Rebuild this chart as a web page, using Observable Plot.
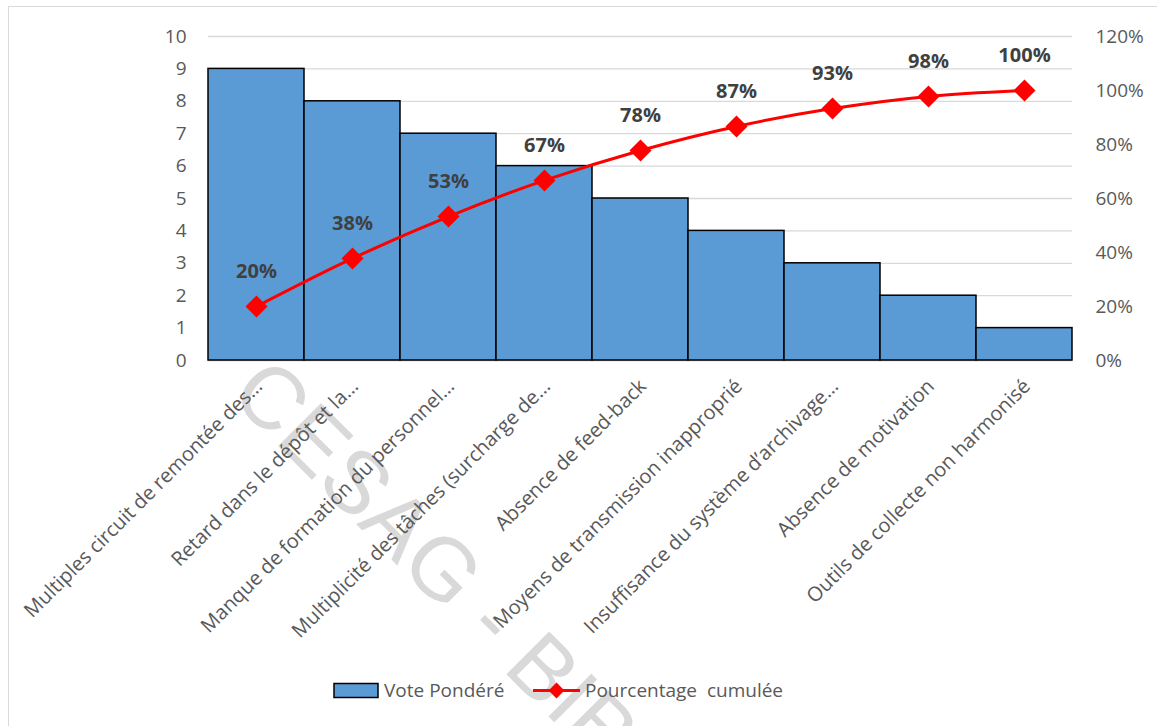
<!DOCTYPE html>
<html>
<head>
<meta charset="utf-8">
<script src="https://cdn.jsdelivr.net/npm/d3@7"></script>
<script src="https://cdn.jsdelivr.net/npm/@observablehq/plot@0.6"></script>
<style>
  html, body { margin: 0; padding: 0; background: #fff; }
  #wrap { position: relative; width: 1157px; height: 726px; overflow: hidden; font-family: "Open Sans", sans-serif; }
  #frame { position: absolute; left: 8px; top: 6px; width: 1170px; height: 740px; border: 1.5px solid #d9d9d9; box-sizing: border-box; }
  #wm { position: absolute; left: 0; top: 0; }
  #chart { position: absolute; left: 0; top: 0; }
  #legend { position: absolute; left: 0; top: 660px; }
</style>
</head>
<body>
<div id="wrap">
  <div id="frame"></div>
  <svg id="wm" width="1157" height="726">
    <text x="228" y="396" transform="rotate(45 228 396)" font-family="Liberation Sans, Arial, sans-serif" font-size="88" fill="#d9d9d9">CESAG - BIBLIOTHEQUE</text>
  </svg>
  <div id="chart"></div>
  <svg id="legend" width="1157" height="66"></svg>
</div>
<script>
const categories = [
  "Multiples circuit de remontée des…",
  "Retard dans le dépôt et la…",
  "Manque de formation du personnel…",
  "Multiplicité des tâches (surcharge de…",
  "Absence de feed-back",
  "Moyens de transmission inapproprié",
  "Insuffisance du système d’archivage…",
  "Absence de motivation",
  "Outils de collecte non harmonisé"
];
const votes = [9, 8, 7, 6, 5, 4, 3, 2, 1];
const cumulPct = [20, 37.8, 53.3, 66.7, 77.8, 86.7, 93.3, 97.8, 100];
const pctLabels = ["20%", "38%", "53%", "67%", "78%", "87%", "93%", "98%", "100%"];
const leftTicks = [0, 1, 2, 3, 4, 5, 6, 7, 8, 9, 10];
const rightTicks = [0, 20, 40, 60, 80, 100, 120];
const seriesNames = ["Vote Pondéré", "Pourcentage  cumulée"];

const rightMax = 120, leftMax = 10;
const toLeft = p => p * leftMax / rightMax;

const rows = categories.map((c, i) => ({cat: c, vote: votes[i], pct: cumulPct[i], label: pctLabels[i]}));

const chart = Plot.plot({
  width: 1157,
  height: 660,
  marginTop: 36,
  marginBottom: 300,
  marginLeft: 208,
  marginRight: 85,
  style: {fontFamily: "'Open Sans', sans-serif", fontSize: "19px", color: "#595959", background: "transparent", overflow: "visible"},
  x: {domain: categories, padding: 0, axis: null},
  y: {domain: [0, leftMax], axis: null},
  marks: [
    Plot.gridY(leftTicks.slice(1), {stroke: "#d9d9d9", strokeOpacity: 1, strokeWidth: 1.3}),
    Plot.ruleY([0], {stroke: "#bfbfbf", strokeWidth: 1.5}),
    Plot.barY(rows, {x: "cat", y: "vote", fill: "#5b9bd5", stroke: "#000", strokeWidth: 1.5}),
    Plot.axisY(leftTicks, {anchor: "left", label: null, tickSize: 0, tickPadding: 22, fill: "#595959", fontSize: 19}),
    Plot.axisY(rightTicks.map(toLeft), {anchor: "right", label: null, tickSize: 0, tickPadding: 23, fill: "#595959", fontSize: 19,
      tickFormat: d => Math.round(d * rightMax / leftMax) + "%"}),
    Plot.text(rows, {x: "cat", frameAnchor: "bottom", text: "cat", rotate: -45, textAnchor: "end", dx: 7, dy: 27, fill: "#595959", fontSize: 20}),
    Plot.line(rows, {x: "cat", y: d => toLeft(d.pct), stroke: "#ff0000", strokeWidth: 3, curve: "catmull-rom"}),
    Plot.dot(rows, {x: "cat", y: d => toLeft(d.pct), symbol: "diamond2", r: 9.9, fill: "#ff0000", stroke: "none"}),
    Plot.text(rows, {x: "cat", y: d => toLeft(d.pct), text: "label", dy: -35, fontWeight: "bold", fill: "#404040", fontSize: 20})
  ]
});
document.getElementById("chart").appendChild(chart);

// legend
const lg = d3.select("#legend");
lg.append("rect").attr("x", 334).attr("y", 23.5).attr("width", 44).attr("height", 14)
  .attr("fill", "#5b9bd5").attr("stroke", "#000").attr("stroke-width", 1.5);
lg.append("text").attr("x", 384).attr("y", 37).attr("fill", "#595959")
  .attr("font-family", "'Open Sans', sans-serif").attr("font-size", 19).text(seriesNames[0]);
lg.append("line").attr("x1", 533).attr("x2", 580).attr("y1", 30.5).attr("y2", 30.5)
  .attr("stroke", "#ff0000").attr("stroke-width", 3);
lg.append("path").attr("d", d3.symbol(d3.symbolDiamond2, 160)()).attr("transform", "translate(556.5,30.5)")
  .attr("fill", "#ff0000");
lg.append("text").attr("x", 585).attr("y", 37).attr("fill", "#595959")
  .attr("font-family", "'Open Sans', sans-serif").attr("font-size", 19).attr("xml:space", "preserve")
  .style("white-space", "pre").text(seriesNames[1]);
</script>
</body>
</html>
